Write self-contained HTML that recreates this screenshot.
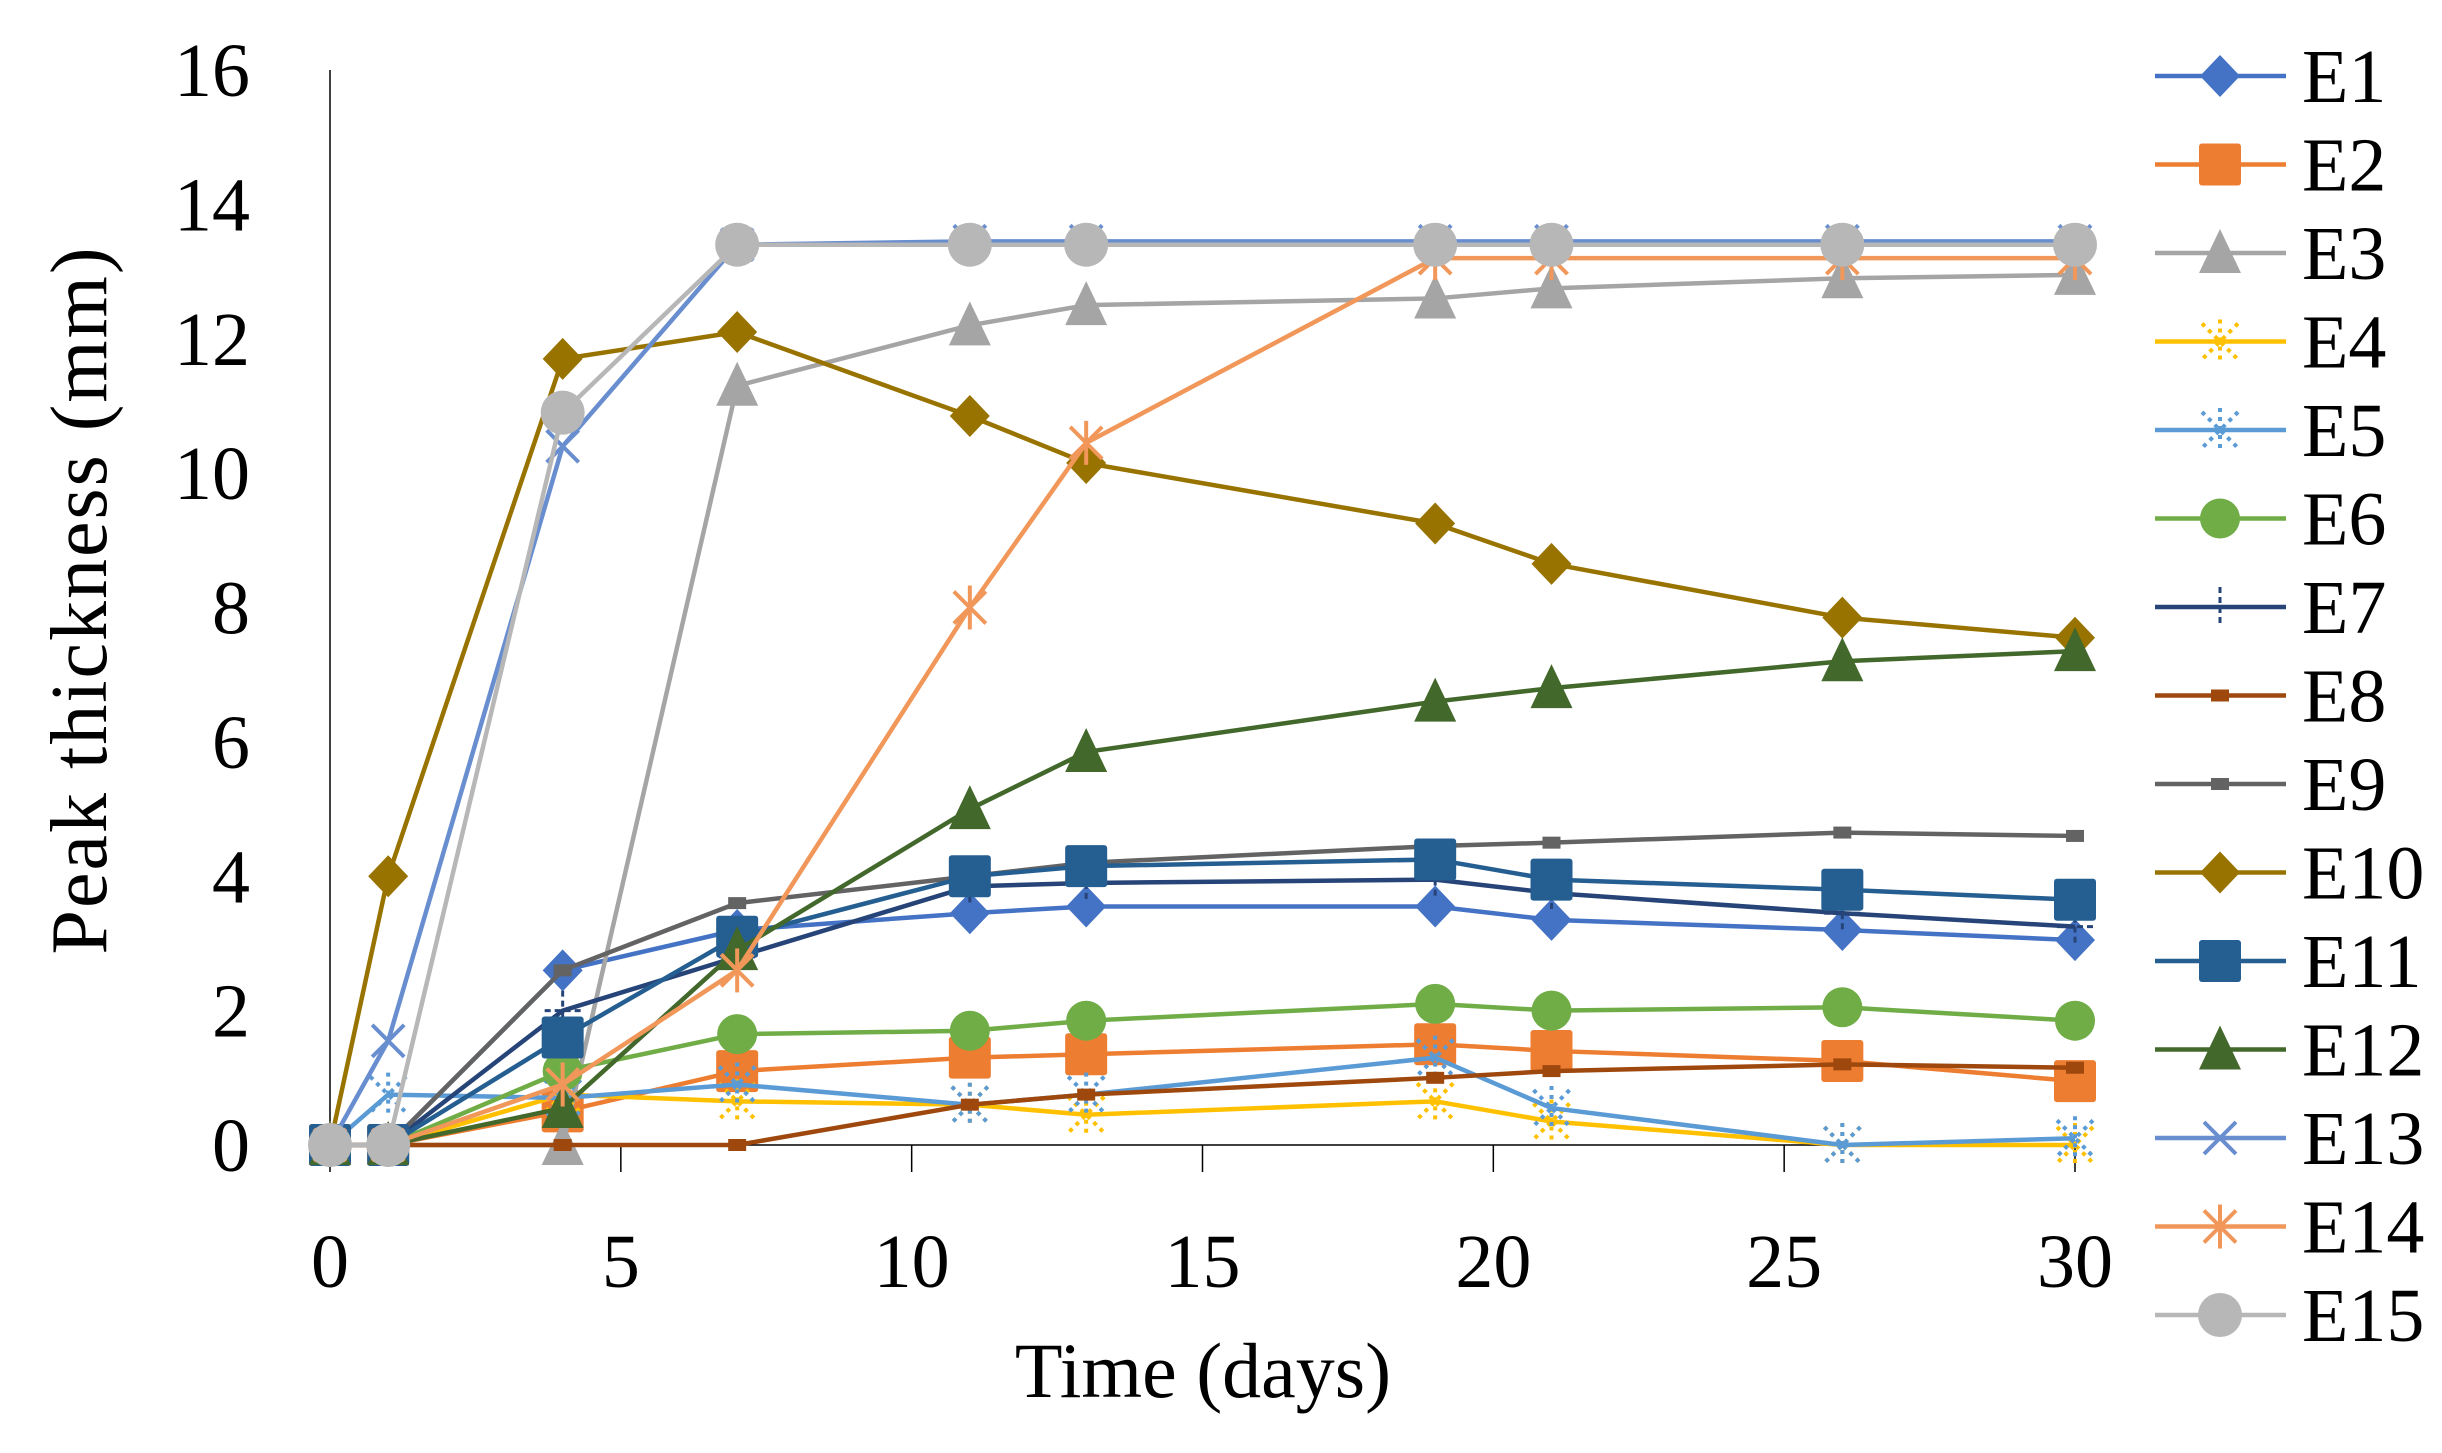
<!DOCTYPE html>
<html><head><meta charset="utf-8"><style>
html,body{margin:0;padding:0;background:#fff;}
svg{display:block;font-family:"Liberation Serif",serif;}
</style></head><body>
<svg id="chart" width="2442" height="1453" viewBox="0 0 2442 1453" xmlns="http://www.w3.org/2000/svg">
<g id="axes"></g>
<g id="series"></g>
<g id="legend"></g>
<text x="1203" y="1397" font-size="78" text-anchor="middle">Time (days)</text>
<text transform="translate(106,600) rotate(-90)" font-size="80" text-anchor="middle" letter-spacing="2">Peak thickness (mm)</text>
</svg>
<script>
const days = [0,1,4,7,11,13,19,21,26,30];
const seriesNames = ["E1","E2","E3","E4","E5","E6","E7","E8","E9","E10","E11","E12","E13","E14","E15"];
const E1 = [0,0,2.6,3.2,3.45,3.55,3.55,3.35,3.2,3.05];
const E2 = [0,0,0.5,1.1,1.3,1.35,1.5,1.4,1.25,0.95];
const E3 = [0,0,0,11.3,12.2,12.5,12.6,12.75,12.9,12.95];
const E4 = [0,0,0.75,0.65,0.6,0.45,0.65,0.35,0,0];
const E5 = [0,0.75,0.7,0.9,0.6,0.75,1.3,0.55,0,0.1];
const E6 = [0,0,1.1,1.65,1.7,1.85,2.1,2.0,2.05,1.85];
const E7 = [0,0,2.0,2.8,3.85,3.9,3.95,3.75,3.45,3.25];
const E8 = [0,0,0,0,0.6,0.75,1.0,1.1,1.2,1.15];
const E9 = [0,0,2.6,3.6,4.0,4.2,4.45,4.5,4.65,4.6];
const E10 = [0,4.0,11.7,12.1,10.85,10.15,9.25,8.65,7.85,7.55];
const E11 = [0,0,1.6,3.1,4.0,4.15,4.25,3.95,3.8,3.65];
const E12 = [0,0,0.55,2.9,5.0,5.85,6.6,6.8,7.2,7.35];
const E13 = [0,1.55,10.4,13.4,13.45,13.45,13.45,13.45,13.45,13.45];
const E14 = [0,0,0.9,2.6,8.0,10.45,13.2,13.2,13.2,13.2];
const E15 = [0,0,10.9,13.4,13.4,13.4,13.4,13.4,13.4,13.4];
const xTicks = [0,5,10,15,20,25,30];
const yTicks = [0,2,4,6,8,10,12,14,16];

const values=[E1,E2,E3,E4,E5,E6,E7,E8,E9,E10,E11,E12,E13,E14,E15];
const colors=["#4472C4","#ED7D31","#A5A5A5","#FFC000","#5B9BD5","#70AD47","#264478","#9E480E","#636363","#997300","#255E91","#43682B","#698ED0","#F1975A","#B7B7B7"];
const markers=["diamond","square","triangle","star4","star5","circleg","plus","smallsq","smallsq","diamond","square","triangle","x","asterisk","circle"];
const X0=330,X1=2075,Y0=1145,Y1=70;
const xs=d=>X0+(d-0)/(30-0)*(X1-X0);
const ys=v=>Y0-(v/16)*(Y0-Y1);
const NS="http://www.w3.org/2000/svg";
function mk(tag,attrs,parent){const e=document.createElementNS(NS,tag);for(const k in attrs)e.setAttribute(k,attrs[k]);parent.appendChild(e);return e;}
const axes=document.getElementById('axes');
let l=mk('line',{x1:X0,y1:Y1,x2:X0,y2:Y0,stroke:'#000','stroke-width':1.5},axes);


l=mk('line',{x1:X0,y1:Y0,x2:X1,y2:Y0,stroke:'#000','stroke-width':1.5},axes);


xTicks.forEach(t=>{
  const tk=mk('line',{x1:xs(t),y1:Y0,x2:xs(t),y2:Y0+27,stroke:'#000','stroke-width':1.5},axes);
  
  
  const tx=mk('text',{x:xs(t),y:1287,'font-size':76,'text-anchor':'middle'},axes);
  tx.textContent=t;
  
  
});
yTicks.forEach(t=>{
  const tx=mk('text',{x:250,y:ys(t)+26,'font-size':76,'text-anchor':'end'},axes);
  tx.textContent=t;
  
  
});
function marker(g,type,x,y,c){
  switch(type){
    case 'diamond': return mk('polygon',{points:`${x},${y-21} ${x+20},${y} ${x},${y+21} ${x-20},${y}`,fill:c},g);
    case 'square': return mk('rect',{x:x-21,y:y-21,width:42,height:42,rx:3,fill:c},g);
    case 'triangle': return mk('polygon',{points:`${x},${y-24} ${x+21},${y+20} ${x-21},${y+20}`,fill:c},g);
    case 'circle': return mk('circle',{cx:x,cy:y,r:22,fill:c},g);
    case 'circleg': return mk('circle',{cx:x,cy:y,r:20,fill:c},g);
    case 'smallsq': return mk('rect',{x:x-9,y:y-6,width:18,height:12,fill:c},g);
    case 'plus': return mk('path',{d:`M${x-18},${y}H${x+18}M${x},${y-20}V${y+20}`,stroke:c,'stroke-width':3,'stroke-dasharray':'6 4'},g);
    case 'x': return mk('path',{d:`M${x-16},${y-16}L${x+16},${y+16}M${x+16},${y-16}L${x-16},${y+16}`,stroke:c,'stroke-width':4},g);
    case 'asterisk': return mk('path',{d:`M${x-16},${y-16}L${x+16},${y+16}M${x+16},${y-16}L${x-16},${y+16}M${x},${y-22}V${y+22}`,stroke:c,'stroke-width':4},g);
    default: return mk('path',{d:`M${x-18},${y-18}L${x+18},${y+18}M${x+18},${y-18}L${x-18},${y+18}M${x},${y-22}V${y+22}`,stroke:c,'stroke-width':4,'stroke-dasharray':'4 5'},g);
  }
}
const sg=document.getElementById('series');
values.forEach((vals,i)=>{
  const g=mk('g',{},sg);
  
  
  const pts=vals.map((v,j)=>xs(days[j])+','+ys(v)).join(' ');
  const pl=mk('polyline',{points:pts,fill:'none',stroke:colors[i],'stroke-width':4.5,'stroke-linejoin':'round'},g);
  
  
  vals.forEach((v,j)=>{
    const m=marker(g,markers[i],xs(days[j]),ys(v),colors[i]);
    
    
  });
});
const lg=document.getElementById('legend');
seriesNames.forEach((n,i)=>{
  const y=76+i*88.5;
  const g=mk('g',{},lg);
  
  
  mk('line',{x1:2155,y1:y,x2:2286,y2:y,stroke:colors[i],'stroke-width':4.5},g);
  marker(g,markers[i],2220,y,colors[i]);
  const t=mk('text',{x:2302,y:y+26,'font-size':76},g);
  t.textContent=n;
  
  
});
</script>
</body></html>
